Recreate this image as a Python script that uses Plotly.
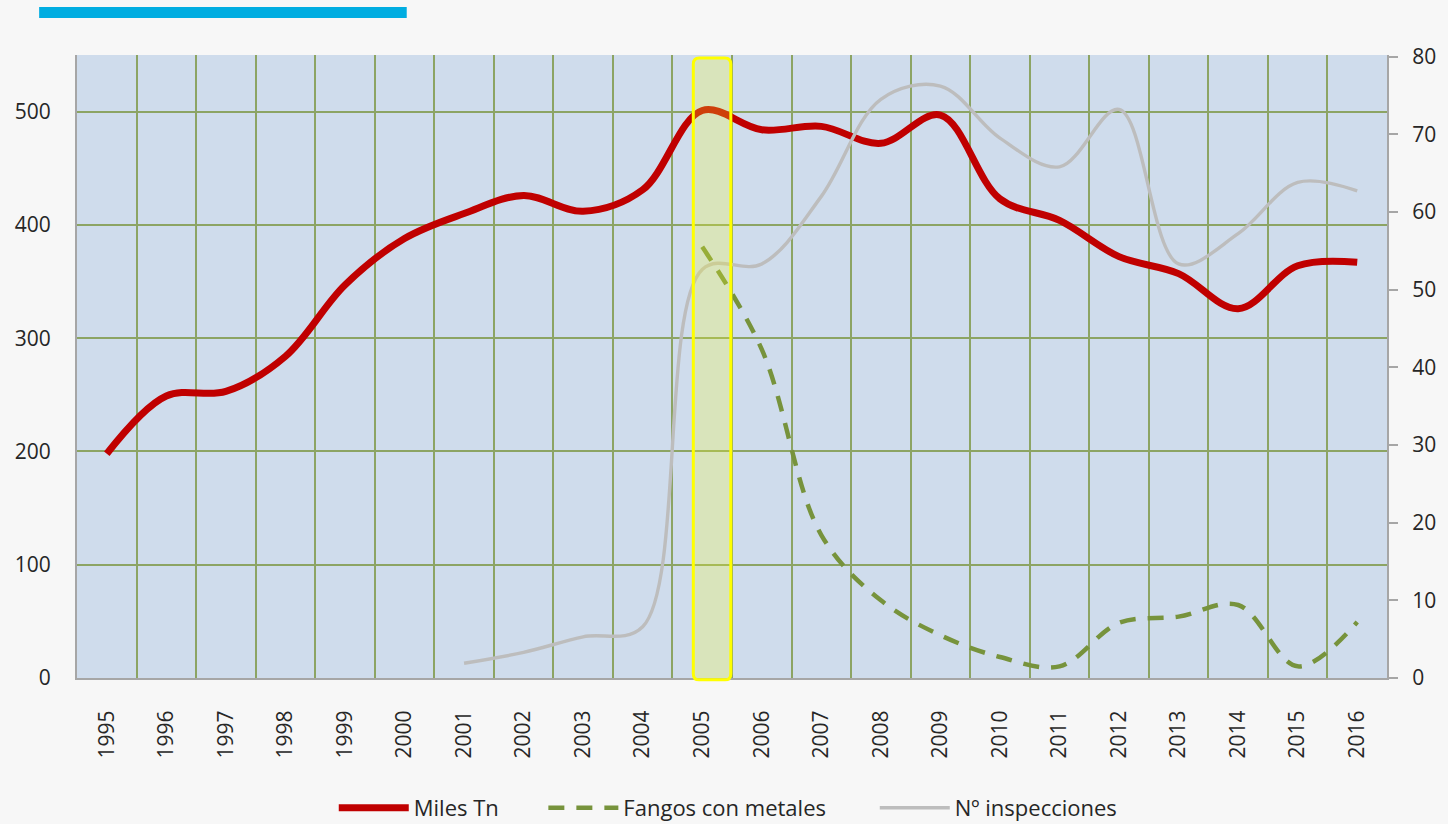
import plotly.graph_objects as go

years = [str(y) for y in range(1995, 2017)]
miles_tn = [198, 249, 253, 284, 347, 388, 410, 426, 412, 431, 501, 484, 487, 472, 497,
            423, 404, 372, 357, 326, 364, 367]
fangos = [None] * 10 + [55.5, 42.3, 18.4, 10.0, 5.5, 2.7, 1.5, 7.1, 7.9, 9.4, 1.5, 7.2]
inspecciones = [None] * 6 + [1.9, 3.3, 5.3, 6.6, 52.6, 53.3, 62.0, 74.5, 76.2, 69.5,
                             65.8, 73.2, 53.3, 57.2, 63.8, 62.7]

xi = list(range(len(years)))

GRID = "#8ca464"
AXIS = "#a6a6a6"
TXT = "#262626"
TICKFONT = dict(family="Open Sans, sans-serif", size=21, color=TXT)
LEGFONT = dict(family="Open Sans, sans-serif", size=22, color=TXT)

fig = go.Figure()
fig.add_trace(go.Scatter(x=xi, y=miles_tn, name="Miles Tn", mode="lines",
                         line=dict(color="#c00000", width=7, shape="spline", smoothing=1.0),
                         legend="legend"))
fig.add_trace(go.Scatter(x=xi, y=fangos, name="Fangos con metales", mode="lines", yaxis="y2",
                         line=dict(color="#77933c", width=4.5, dash="16px,12px",
                                   shape="spline", smoothing=1.0),
                         legend="legend2"))
fig.add_trace(go.Scatter(x=xi, y=inspecciones, name="Nº inspecciones", mode="lines", yaxis="y2",
                         line=dict(color="#bdbdbd", width=3.4, shape="spline", smoothing=1.0),
                         legend="legend3"))

# highlight around 2005 (rounded rectangle)
x0, x1 = 9.85, 10.48
y0, y1 = -0.003, 0.995
rx, ry = 0.1, 0.01
path = (f"M {x0+rx},{y0} L {x1-rx},{y0} Q {x1},{y0} {x1},{y0+ry} "
        f"L {x1},{y1-ry} Q {x1},{y1} {x1-rx},{y1} L {x0+rx},{y1} "
        f"Q {x0},{y1} {x0},{y1-ry} L {x0},{y0+ry} Q {x0},{y0} {x0+rx},{y0} Z")
fig.add_shape(type="path", path=path, xref="x", yref="paper", layer="above",
              fillcolor="rgba(248,252,40,0.25)", line=dict(color="#ffff00", width=3))

# top blue bar
fig.add_shape(type="rect", xref="paper", yref="paper", x0=-0.0289, x1=0.2517,
              y0=1.0594, y1=1.077, fillcolor="#00ade1", line=dict(width=0), layer="above")

def leg(x):
    return dict(orientation="h", x=x, xanchor="left", xref="paper",
                y=0.0194, yanchor="middle", yref="container",
                font=LEGFONT, bgcolor="rgba(0,0,0,0)", itemwidth=70)

fig.update_layout(
    width=1448, height=824,
    margin=dict(l=77, r=56, t=55, b=146),
    paper_bgcolor="#f7f7f7",
    plot_bgcolor="#cfdcec",
    showlegend=True,
    legend=leg(0.196),
    legend2=leg(0.356),
    legend3=leg(0.609),
    xaxis=dict(range=[-0.5, 21.5], tickmode="array", tickvals=xi, ticktext=years,
               tickangle=-90, tickfont=TICKFONT, showgrid=False, zeroline=False,
               showline=True, linecolor=AXIS, linewidth=2,
               ticks="outside", ticklen=22, tickcolor="rgba(0,0,0,0)",
               minor=dict(tickmode="array", tickvals=[i + 0.5 for i in xi[:-1]],
                          showgrid=True, gridcolor=GRID, gridwidth=2, ticks="")),
    yaxis=dict(range=[0, 550], tickvals=[0, 100, 200, 300, 400, 500], tickfont=TICKFONT,
               showgrid=True, gridcolor=GRID, gridwidth=2, zeroline=False,
               showline=True, linecolor=AXIS, linewidth=2,
               ticks="outside", ticklen=20, tickcolor="rgba(0,0,0,0)"),
    yaxis2=dict(range=[0, 80.2], tickvals=list(range(0, 81, 10)), overlaying="y", side="right",
                tickfont=TICKFONT, showgrid=False, zeroline=False,
                showline=True, linecolor=AXIS, linewidth=2,
                ticks="outside", ticklen=9, tickcolor=AXIS, tickwidth=2,
                ticklabelstandoff=10),
)

fig.write_html("out.html", config={"displayModeBar": False},
               post_script="document.body.style.margin='0';document.body.style.overflow='hidden';")
